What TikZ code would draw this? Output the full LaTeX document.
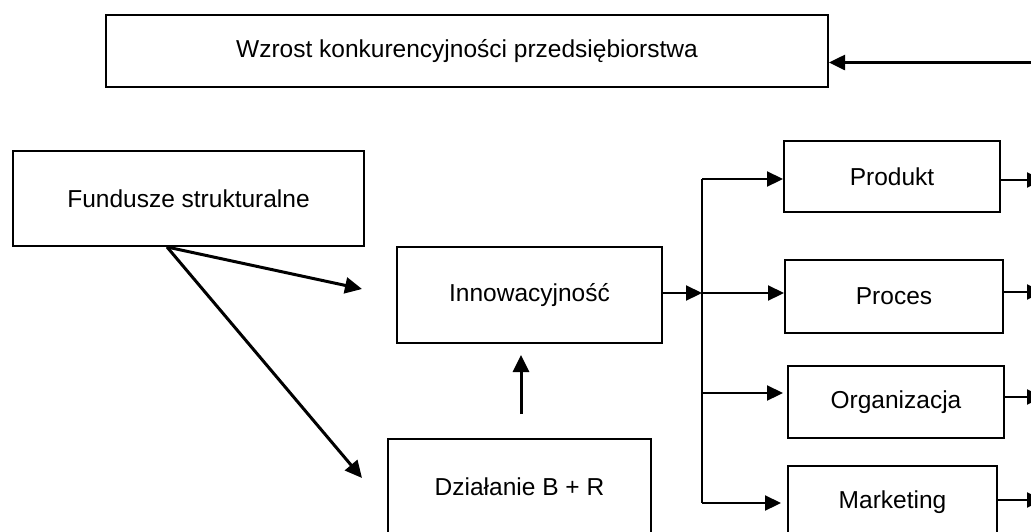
\documentclass[tikz,border=0pt]{standalone}
\usepackage{fontspec}
\setmainfont{Liberation Sans}
\usetikzlibrary{arrows.meta}
\tikzset{
  box/.style={draw, line width=2pt, rectangle, anchor=north west, inner sep=0pt, align=center, font=\fontsize{24.5}{28}\selectfont},
  arr/.style={line width=2.2pt, -{Triangle[length=16pt,width=15pt]}},
  thick arr/.style={line width=3pt, -{Triangle[length=17pt,width=16pt]}},
  plain/.style={line width=2.2pt}
}
\begin{document}
\begin{tikzpicture}[x=1pt,y=-1pt]
\useasboundingbox (0,0) rectangle (1031,531);
\clip (0,0) rectangle (1031,531);
% boxes
\node[box, minimum width=722pt, minimum height=72pt] (top) at (105,14) {Wzrost konkurencyjności przedsiębiorstwa};
\node[box, minimum width=351pt, minimum height=95pt] (fund) at (12,150) {Fundusze strukturalne};
\node[box, minimum width=265pt, minimum height=96pt] (inn) at (396,246) {Innowacyjność};
\node[box, minimum width=263pt, minimum height=96pt] (dz) at (387,438) {Działanie B + R};
\node[box, minimum width=216pt, minimum height=71pt] (prod) at (783,140) {Produkt};
\node[box, minimum width=218pt, minimum height=73pt] (proc) at (784,259) {Proces};
\node[box, minimum width=216pt, minimum height=72pt] (org) at (787,365) {Organizacja};
\node[box, minimum width=209pt, minimum height=72pt] (mark) at (787,465) {Marketing};
% coordinates
\coordinate (rin) at (1045,62.5);
\coordinate (fs) at (167,247);
\coordinate (f1) at (362,289);
\coordinate (f2) at (362,478);
\coordinate (ub) at (521,414);
\coordinate (ut) at (521,355);
\coordinate (j) at (702,293);
\coordinate (jt) at (702,179);
\coordinate (jb) at (702,503);
\coordinate (jo) at (702,393);
\coordinate (o1) at (1043,180);
\coordinate (o2) at (1043,292);
\coordinate (o3) at (1043,397);
\coordinate (o4) at (1043,500);
% connectors
\draw[arr, line width=2.6pt] (rin) -- (rin -| top.east);
\draw[thick arr] (fs) -- (f1);
\draw[thick arr] (fs) -- (f2);
\draw[thick arr] (ub) -- (ut);
\draw[arr] (inn.east |- j) -- (j);
\draw[plain] (jt) -- (jb);
\draw[arr] (jt) -- (jt -| prod.west);
\draw[arr] (j) -- (j -| proc.west);
\draw[arr] (jo) -- ([xshift=-4pt]jo -| org.west);
\draw[arr] (jb) -- ([xshift=-6pt]jb -| mark.west);
\draw[arr] (o1 -| prod.east) -- (o1);
\draw[arr] (o2 -| proc.east) -- (o2);
\draw[arr] (o3 -| org.east) -- (o3);
\draw[arr] (o4 -| mark.east) -- (o4);
\end{tikzpicture}
\end{document}
